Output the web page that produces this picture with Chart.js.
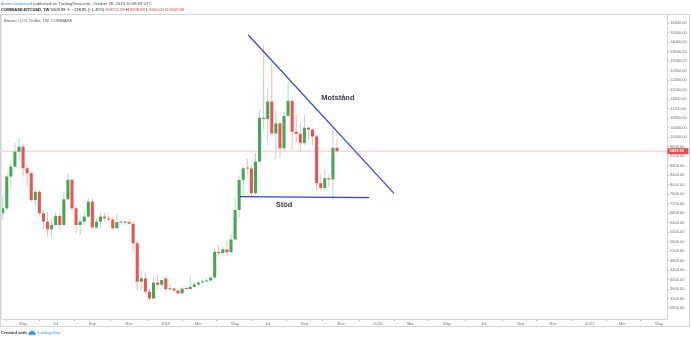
<!DOCTYPE html>
<html>
<head>
<meta charset="utf-8">
<script src="https://cdn.jsdelivr.net/npm/chart.js@4.4.1/dist/chart.umd.min.js"></script>
<style>
  html, body { margin: 0; padding: 0; background: #ffffff; }
  canvas { display: block; }
</style>
</head>
<body>
<canvas id="chart" width="691" height="339"></canvas>
<script>
// COINBASE:BTCUSD weekly candles, one per week from Mon 2 Apr 2018 (index 0) to Mon 28 Oct 2019 (index 82)
const opens = [
  6790, 7000, 8340, 8760, 9390, 9600, 8690, 8480, 7350, 7700,
  6790, 6440, 6120, 6300, 6680, 6300, 7380, 8200, 7000, 6300,
  6440, 6650, 7280, 6200, 6440, 6650, 6580, 6530, 6160, 6420,
  6400, 6420, 6350, 5530, 3910, 4050, 3490, 3200, 3870, 3780,
  4040, 3590, 3620, 3540, 3420, 3630, 3600, 3690, 3790, 3870,
  3920, 3960, 4080, 5170, 5120, 5270, 5150, 5690, 6930, 8200,
  8690, 8680, 7640, 8970, 10820, 10760, 11500, 10160, 10580, 9530,
  10900, 11530, 10230, 10140, 9760, 10400, 10320, 10030, 8060, 7860,
  8270, 8220, 9551.89
];
const highs = [
  7490, 8430, 8900, 9770, 9950, 9720, 8880, 8560, 7780, 7760,
  6930, 6820, 6520, 6820, 6780, 7700, 8480, 8250, 7160, 6620,
  6880, 7420, 7420, 6550, 6830, 6800, 6680, 6620, 6790, 6460,
  6470, 6540, 6480, 5620, 4370, 4300, 3600, 4120, 4190, 4000,
  4150, 3800, 3650, 3560, 3700, 3700, 4150, 3900, 3950, 4000,
  4030, 4150, 5330, 5450, 5400, 5650, 5900, 7480, 8350, 8800,
  9090, 8800, 9330, 11150, 13880, 12050, 13100, 11100, 10650, 11080,
  12300, 11550, 10950, 10620, 10920, 10450, 10350, 10100, 8450, 8650,
  8420, 10420, 9939.69
];
const lows = [
  6510, 6900, 7850, 8650, 9050, 8340, 7950, 7280, 7080, 6660,
  6090, 5800, 5790, 6220, 6120, 6290, 7340, 6900, 5950, 5880,
  6300, 6650, 6150, 6130, 6150, 6440, 6450, 6120, 6160, 6360,
  6300, 6330, 5180, 3490, 3560, 3390, 3130, 3190, 3600, 3700,
  3500, 3500, 3450, 3360, 3350, 3560, 3600, 3650, 3700, 3850,
  3880, 3920, 4080, 4950, 5030, 4970, 5150, 5690, 6620, 7550,
  8400, 7470, 7560, 8970, 10320, 9650, 10000, 9090, 9110, 9400,
  10800, 9500, 9780, 9350, 9680, 9900, 9650, 7730, 7750, 7760,
  7910, 7350, 9400.00
];
const closes = [
  7000, 8340, 8760, 9390, 9600, 8690, 8480, 7350, 7700, 6790,
  6440, 6120, 6300, 6680, 6300, 7380, 8200, 7000, 6300, 6440,
  6650, 7280, 6200, 6440, 6650, 6580, 6530, 6160, 6420, 6400,
  6420, 6350, 5530, 3910, 4050, 3490, 3200, 3870, 3780, 3980,
  3590, 3620, 3540, 3420, 3620, 3600, 3690, 3790, 3870, 3920,
  3960, 4080, 5170, 5120, 5270, 5150, 5690, 6930, 8200, 8690,
  8680, 7640, 8970, 10820, 10760, 11500, 10160, 10580, 9530, 10900,
  11530, 10230, 10140, 9760, 10400, 10320, 10030, 8060, 7860, 8270,
  8220, 9548.84, 9409.99
];

// Time scale labels, placed on the first weekly bar of each labelled month
const timeTickWeeks  = [5, 13, 22, 31, 40, 48, 57, 65, 74, 83, 92, 100, 109, 118, 127, 135, 144, 152, 161];
const timeTickLabels = ['May', 'Jul', 'Sep', 'Nov', '2019', 'Mar', 'May', 'Jul', 'Sep', 'Nov',
                        '2020', 'Mar', 'May', 'Jul', 'Sep', 'Nov', '2021', 'Mar', 'May'];

// Price scale labels
const priceTicks = [2800, 3200, 3600, 4000, 4400, 4800, 5200, 5600, 6000, 6400, 6800, 7200,
                    7600, 8000, 8400, 8800, 9200, 9600, 10000, 10400, 10800, 11200, 11600,
                    12000, 12400, 12800, 13200, 13600, 14000, 14400, 14800];

const lastPrice = 9409.99;

// Hand-drawn trend lines: falling resistance and flat support (week index, price)
const resistanceLine = [{ x: 60.24, y: 14307 }, { x: 95.98, y: 7634 }];
const supportLine    = [{ x: 58.2, y: 7495 }, { x: 89.9, y: 7450 }];

const X_MIN = -0.17, X_MAX = 162.94;
const Y_MIN = 2336, Y_MAX = 15150;

const UP_BODY = '#43a853', DOWN_BODY = '#ef5350';
const UP_WICK = '#a9dcd6', DOWN_WICK = '#f6b9b9';
const FONT = '"Liberation Sans", Arial, sans-serif';

const isUp = closes.map((c, i) => c >= opens[i]);

const wickData = highs.map((h, i) => ({ x: i, y: [lows[i], h] }));
const bodyData = opens.map((o, i) => ({ x: i, y: [o, closes[i]] }));

const decor = {
  id: 'decor',
  beforeDraw(chart) {
    const ctx = chart.ctx;
    ctx.save();
    ctx.fillStyle = '#ffffff';
    ctx.fillRect(0, 0, chart.width, chart.height);
    ctx.restore();
  },
  afterDraw(chart) {
    const { ctx, scales: { x, y }, chartArea: a } = chart;
    ctx.save();

    // frame around the pane and scales
    ctx.strokeStyle = '#d3d5d9';
    ctx.lineWidth = 1;
    ctx.strokeRect(0.5, 14.5, 689, 312);
    ctx.fillStyle = '#d0d0d0';
    ctx.fillRect(0, 14, 1.5, a.bottom - 14);

    // last price marker on the price scale
    const py = y.getPixelForValue(lastPrice);
    ctx.fillStyle = '#f04848';
    ctx.fillRect(a.right + 0.5, py - 3, 21, 6);
    ctx.fillStyle = '#ffffff';
    ctx.font = 'bold 4px ' + FONT;
    ctx.textBaseline = 'middle';
    ctx.textAlign = 'left';
    ctx.fillText(lastPrice.toFixed(2), a.right + 2.5, py + 0.2);

    // chart annotations
    ctx.fillStyle = '#3a3d45';
    ctx.font = 'bold 7.5px ' + FONT;
    ctx.textAlign = 'center';
    ctx.fillText('Motstånd', x.getPixelForValue(82.2), y.getPixelForValue(11650));
    ctx.fillText('Stöd', x.getPixelForValue(69.0), y.getPixelForValue(7140));

    // header rows
    ctx.textAlign = 'left';
    let cx = 1, rowY = 4;
    const seg = (t, color, font) => {
      if (font) ctx.font = font;
      ctx.fillStyle = color;
      ctx.fillText(t, cx, rowY);
      cx += ctx.measureText(t).width;
    };
    seg('dennisskoleward', '#3c8de6', '4.2px ' + FONT);
    seg(' published on TradingView.com, October 28, 2019 10:08:09 UTC', '#4a4a4a', '4.2px ' + FONT);

    cx = 1; rowY = 10;
    seg('COINBASE:BTCUSD, 1W ', '#202020', 'bold 4.1px ' + FONT);
    seg('9409.99 ', '#202020', '4.1px ' + FONT);
    seg('▼ ', '#e53935');
    seg('−138.85 (−1.45%) ', '#202020');
    seg('O:', '#202020'); seg('9551.89', '#e53935');
    seg(' H:', '#202020'); seg('9939.69', '#e53935');
    seg(' L:', '#202020'); seg('9400.00', '#e53935');
    seg(' C:', '#202020'); seg('9409.99', '#e53935');

    cx = 4; rowY = 20.5;
    seg('Bitcoin / U.S. Dollar, 1W, COINBASE', '#555555', '4.2px ' + FONT);

    // footer
    cx = 1; rowY = 333;
    seg('Created with ', '#333333', 'bold 4.3px ' + FONT);
    ctx.fillStyle = '#2a9df4';
    ctx.beginPath();
    ctx.arc(cx + 2, 333.6, 1.6, 0, Math.PI * 2);
    ctx.arc(cx + 4.2, 332.6, 2.1, 0, Math.PI * 2);
    ctx.arc(cx + 6.3, 333.6, 1.5, 0, Math.PI * 2);
    ctx.fill();
    cx += 9;
    seg('TradingView', '#2a9df4', '4.3px ' + FONT);

    ctx.restore();
  }
};

new Chart(document.getElementById('chart'), {
  type: 'bar',
  data: {
    datasets: [
      {
        label: 'wicks',
        data: wickData,
        backgroundColor: isUp.map(u => u ? UP_WICK : DOWN_WICK),
        grouped: false,
        categoryPercentage: 1,
        barPercentage: 0.25,
        minBarLength: 1,
        order: 3
      },
      {
        label: 'bodies',
        data: bodyData,
        backgroundColor: isUp.map(u => u ? UP_BODY : DOWN_BODY),
        grouped: false,
        categoryPercentage: 1,
        barPercentage: 0.75,
        minBarLength: 1,
        order: 2
      },
      {
        type: 'line',
        label: 'last price',
        data: [{ x: X_MIN, y: lastPrice }, { x: X_MAX, y: lastPrice }],
        borderColor: 'rgba(240, 80, 80, 0.35)',
        borderWidth: 1,
        pointRadius: 0,
        order: 4
      },
      {
        type: 'line',
        label: 'resistance',
        data: resistanceLine,
        borderColor: '#2f3ff0',
        borderWidth: 1.2,
        pointRadius: 0,
        order: 1
      },
      {
        type: 'line',
        label: 'support',
        data: supportLine,
        borderColor: '#2f3ff0',
        borderWidth: 1.2,
        pointRadius: 0,
        order: 1
      }
    ]
  },
  options: {
    responsive: false,
    devicePixelRatio: 1,
    animation: false,
    events: [],
    layout: { padding: { left: 2, right: 2, top: 15, bottom: 13 } },
    plugins: { legend: { display: false }, tooltip: { enabled: false } },
    scales: {
      x: {
        type: 'linear',
        min: X_MIN,
        max: X_MAX,
        offset: false,
        afterBuildTicks: s => { s.ticks = timeTickWeeks.map(v => ({ value: v })); },
        afterFit: s => { s.height = 7; },
        ticks: {
          autoSkip: false,
          maxRotation: 0,
          padding: 0,
          color: '#6e6e6e',
          font: { size: 4, family: FONT },
          callback: (v, i) => timeTickLabels[i]
        },
        grid: { drawOnChartArea: false, drawTicks: true, tickLength: 2, color: '#b5b5b5' },
        border: { display: true, color: '#cfd2d6' }
      },
      y: {
        type: 'linear',
        position: 'right',
        min: Y_MIN,
        max: Y_MAX,
        beginAtZero: false,
        afterBuildTicks: s => { s.ticks = priceTicks.map(v => ({ value: v })); },
        afterFit: s => { s.width = 22; },
        ticks: {
          autoSkip: false,
          padding: 1,
          color: '#6e6e6e',
          font: { size: 4, family: FONT },
          callback: v => Number(v).toFixed(2)
        },
        grid: { drawOnChartArea: false, drawTicks: true, tickLength: 2, color: '#b5b5b5' },
        border: { display: true, color: '#cfd2d6' }
      }
    }
  },
  plugins: [decor]
});
</script>
</body>
</html>
